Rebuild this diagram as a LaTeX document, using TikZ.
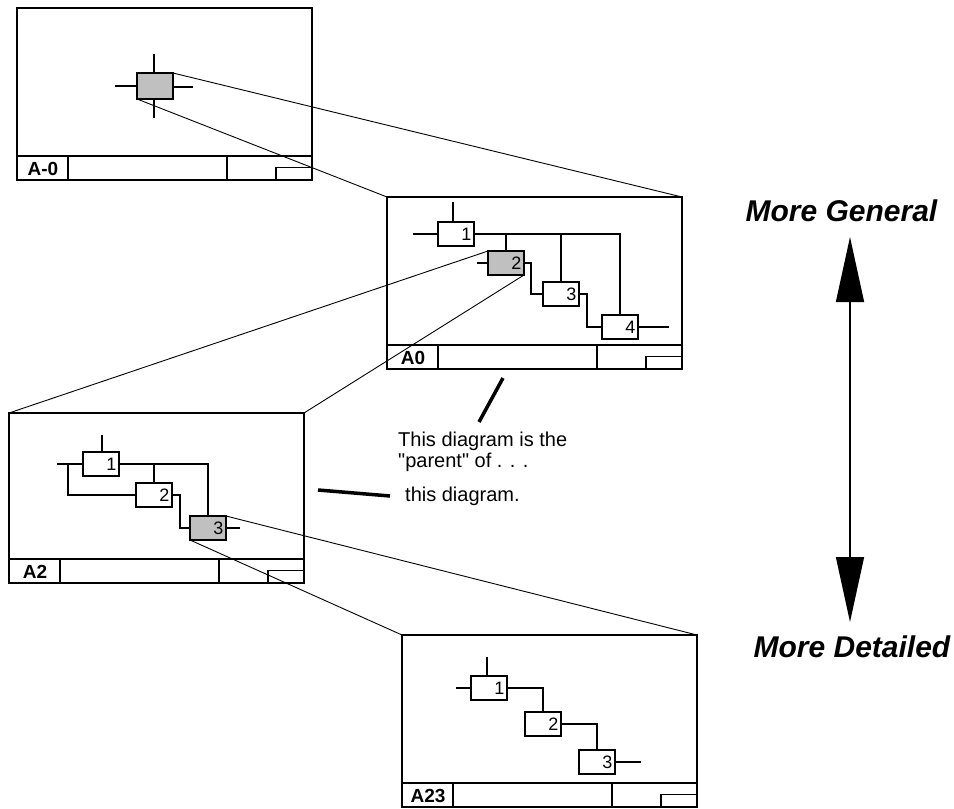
\documentclass[tikz,border=0pt]{standalone}
\usepackage{fontspec}
\setmainfont{Liberation Sans}[Ligatures=TeXOff]
\usetikzlibrary{arrows.meta,calc}
\definecolor{boxgray}{RGB}{192,192,192}
\tikzset{
  frm/.style={draw, line width=1.8pt, minimum width=295pt, inner sep=0pt, outer sep=0pt},
  frmline/.style={line width=1.8pt},
  lbl/.style={inner sep=0pt, font=\fontsize{19}{19}\selectfont\bfseries},
  box/.style={draw, line width=1.7pt, minimum width=36pt, minimum height=24pt,
    text width=31pt, align=right, inner xsep=2.5pt, inner ysep=0pt, outer sep=0pt,
    font=\fontsize{18}{18}\selectfont},
  wire/.style={line width=1.6pt},
  zoomline/.style={line width=0.9pt},
  pointer/.style={line width=3.5pt},
  note/.style={inner sep=0pt, font=\fontsize{20}{21.5}\selectfont},
  big/.style={inner sep=0pt, font=\fontsize{30}{30}\selectfont\bfseries\itshape},
}
\newcommand{\idefframe}[5]{%
  \node[frm, minimum height=#4pt, anchor=north west] (#1) at (#2,#3) {};
  \draw[frmline] ([yshift=24pt]#1.south west) -- ([yshift=24pt]#1.south east);
  \draw[frmline] ([xshift=51pt]#1.south west) -- ([xshift=51pt,yshift=24pt]#1.south west);
  \draw[frmline] ([xshift=210pt]#1.south west) -- ([xshift=210pt,yshift=24pt]#1.south west);
  \draw[frmline] ([xshift=-36pt]#1.south east) rectangle ([yshift=12.5pt]#1.south east);
  \node[lbl] (#1-lbl) at ([xshift=26pt,yshift=11.5pt]#1.south west) {#5};
}
\begin{document}
\begin{tikzpicture}[x=1pt,y=-1pt]
\useasboundingbox (0,0) rectangle (954,809);

% ---- A-0 ----
\idefframe{F0}{17}{8}{172}{A-0}
\node[box, fill=boxgray, minimum height=26pt] (g0) at (155,86) {};
\draw[wire] ([xshift=-1pt]g0.north) -- ++(0,-19);
\draw[wire] ([xshift=-1pt]g0.south) -- ++(0,19);
\draw[wire] (g0.west) -- ++(-22,0);
\draw[wire] ([yshift=-1pt]g0.east) -- ++(20,0);

% ---- A0 ----
\idefframe{F1}{387}{197}{172}{A0}
\node[box] (b1) at (456,234) {1};
\node[box, fill=boxgray] (b2) at (506,263) {2};
\node[box] (b3) at (561,294) {3};
\node[box] (b4) at (620,327) {4};
\draw[wire] ([xshift=-3pt]b1.north) -- ++(0,-20);
\draw[wire] (b1.west) -- ++(-25,0);
\draw[wire] (b1.east) -| (b4.north);
\draw[wire] (b2.north) -- (b2.north |- b1.east);
\draw[wire] (b3.north) -- (b3.north |- b1.east);
\draw[wire] (b2.west) -- ++(-11,0);
\draw[wire] (b2.east) -- ++(7,0) |- (b3.west);
\draw[wire] (b3.east) -- ++(8,0) |- (b4.west);
\draw[wire] (b4.east) -- ++(31,0);

% ---- A2 ----
\idefframe{F2}{9}{413}{170}{A2}
\node[box] (c1) at (101,464) {1};
\node[box] (c2) at (154,495) {2};
\node[box, fill=boxgray] (c3) at (208,528) {3};
\draw[wire] ([xshift=1pt]c1.north) -- ++(0,-17);
\draw[wire] (c1.west) -- ++(-26,0);
\draw[wire] ([xshift=-15pt]c1.west) |- (c2.west);
\draw[wire] (c1.east) -| (c3.north);
\draw[wire] (c2.north) -- (c2.north |- c1.east);
\draw[wire] (c2.east) -- ++(8,0) |- (c3.west);
\draw[wire] (c3.east) -- ++(14,0);

% ---- A23 ----
\idefframe{F3}{402}{635}{172}{A23}
\node[box] (d1) at (489,688) {1};
\node[box] (d2) at (543,724) {2};
\node[box] (d3) at (597,762) {3};
\draw[wire] ([xshift=-2pt]d1.north) -- ++(0,-19);
\draw[wire] (d1.west) -- ++(-15,0);
\draw[wire] (d1.east) -| (d2.north);
\draw[wire] (d2.east) -| (d3.north);
\draw[wire] (d3.east) -- ++(26,0);

% ---- zoom lines ----
\draw[zoomline] (g0.north east) -- (F1.north east);
\draw[zoomline] (g0.south west) -- (F1.north west);
\draw[zoomline] (b2.north west) -- (F2.north west);
\draw[zoomline] (b2.south east) -- (F2.north east);
\draw[zoomline] (c3.north east) -- (F3.north east);
\draw[zoomline] (c3.south west) -- (F3.north west);

% ---- annotations ----
\node[note, anchor=base west, align=left] (t1) at (398,467.5) {This diagram is the\\"parent" of . . .};
\node[note, anchor=base west] (t2) at (405,501) {this diagram.};
\coordinate (p1) at (503,378);
\coordinate (p2) at (479,422);
\draw[pointer] (p1) -- (p2);
\coordinate (q1) at (318,490);
\coordinate (q2) at (390,496);
\draw[pointer] (q1) -- (q2);

% ---- general / detailed arrow ----
\node[big, anchor=base] (gen) at (841.5,221) {More General};
\node[big, anchor=base] (det) at (852,657) {More Detailed};
\coordinate (up) at (850,237);
\coordinate (dn) at (850,622);
\draw[line width=1.5pt, {Triangle[length=65pt,width=28pt]}-{Triangle[length=65pt,width=28pt]}] (up) -- (dn);
\end{tikzpicture}
\end{document}
